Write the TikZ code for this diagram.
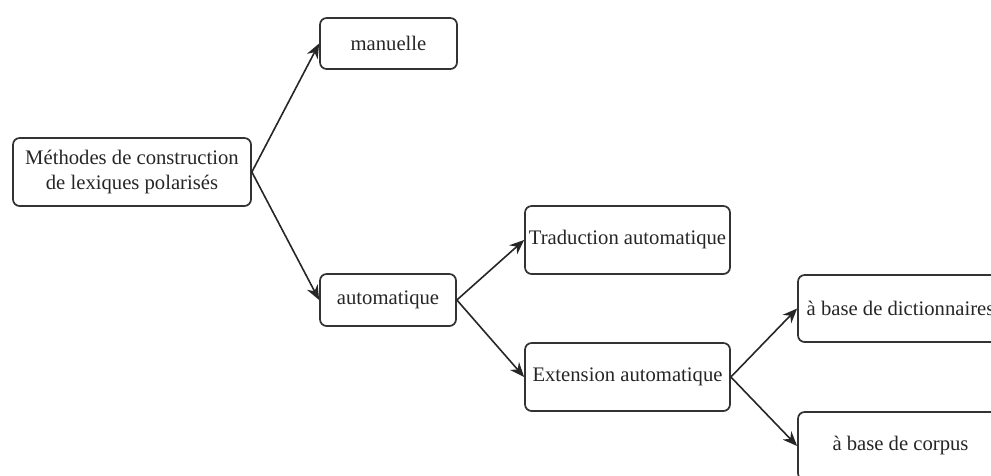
\documentclass[tikz,border=0pt]{standalone}
\usepackage{fontspec}
\setmainfont{Liberation Serif}
\usetikzlibrary{arrows.meta}
\begin{document}
\begin{tikzpicture}[x=0.75pt,y=-0.75pt,
  box/.style={draw=black!80, line width=1.3pt, rounded corners=5pt, inner sep=0pt, align=center, font=\fontsize{15.5}{18.5}\selectfont, text=black!85},
  link/.style={draw=black!85, line width=1.2pt, -{Stealth[length=11pt,width=9pt]}}]
\clip (0,0) rectangle (991,475);
\node[box, minimum width=238*0.75pt, minimum height=68*0.75pt] (root) at (132,172) {Méthodes de construction\\de lexiques polarisés};
\node[box, minimum width=137*0.75pt, minimum height=51*0.75pt] (man) at (388.5,43.5) {manuelle};
\node[box, minimum width=136*0.75pt, minimum height=52*0.75pt] (auto) at (388,300) {automatique};
\node[box, minimum width=205*0.75pt, minimum height=68*0.75pt] (trad) at (627.5,240) {Traduction automatique};
\node[box, minimum width=205*0.75pt, minimum height=68*0.75pt] (ext) at (627.5,377) {Extension automatique};
\node[box, minimum width=205*0.75pt, minimum height=67*0.75pt] (dict) at (900.5,308.5) {à base de dictionnaires};
\node[box, minimum width=205*0.75pt, minimum height=68*0.75pt] (corp) at (900.5,446) {à base de corpus};
\draw[link] (root.east) -- (man.west);
\draw[link] (root.east) -- (auto.west);
\draw[link] (auto.east) -- (trad.west);
\draw[link] (auto.east) -- (ext.west);
\draw[link] (ext.east) -- (dict.west);
\draw[link] (ext.east) -- (corp.west);
\end{tikzpicture}
\end{document}
